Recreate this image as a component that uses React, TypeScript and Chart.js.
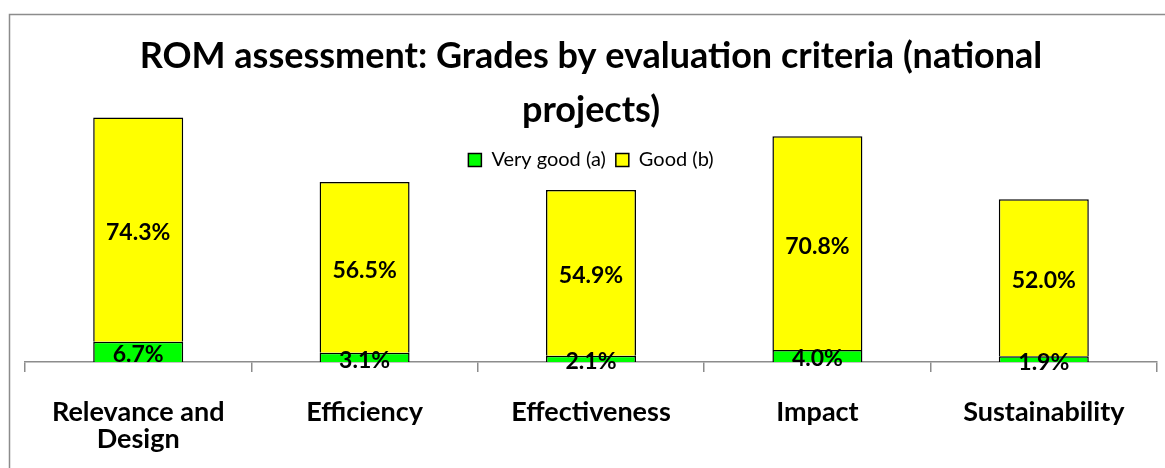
import React, { useEffect, useRef } from "react";
import { Chart, registerables } from "chart.js";

Chart.register(...registerables);

const categories: (string | string[])[] = [
  ["Relevance and", "Design"],
  "Efficiency",
  "Effectiveness",
  "Impact",
  "Sustainability",
];
const veryGood = [6.7, 3.1, 2.1, 4.0, 1.9];
const good = [74.3, 56.5, 54.9, 70.8, 52.0];
const titleLines = ["ROM assessment: Grades by evaluation criteria (national", "projects)"];
const seriesNames = ["Very good (a)", "Good (b)"];

const FONT = "Lato";

const frame = {
  id: "frame",
  beforeDraw(chart: any) {
    const ctx = chart.ctx;
    ctx.save();
    ctx.strokeStyle = "#8c8c8c";
    ctx.lineWidth = 1.5;
    ctx.beginPath();
    ctx.moveTo(9.5, 2000);
    ctx.lineTo(9.5, 14.5);
    ctx.lineTo(2000, 14.5);
    ctx.stroke();
    ctx.restore();
  },
};

const valueLabels = {
  id: "valueLabels",
  afterDatasetsDraw(chart: any) {
    const ctx = chart.ctx;
    ctx.save();
    ctx.fillStyle = "#000";
    ctx.font = `bold 23px ${FONT}`;
    ctx.textAlign = "center";
    ctx.textBaseline = "middle";
    chart.data.datasets.forEach((ds: any, di: number) => {
      const meta = chart.getDatasetMeta(di);
      meta.data.forEach((el: any, i: number) => {
        const v = ds.data[i];
        const cy = (el.y + el.base) / 2;
        ctx.fillText(v.toFixed(1) + "%", el.x, cy + 3);
      });
    });
    ctx.restore();
  },
};

export default function App() {
  const ref = useRef<HTMLCanvasElement>(null);
  useEffect(() => {
    if (!ref.current) return;
    const chart = new Chart(ref.current, {
      type: "bar",
      data: {
        labels: categories,
        datasets: [
          {
            label: seriesNames[0],
            data: veryGood,
            backgroundColor: "#00ff00",
            borderColor: "#000",
            borderWidth: 1.5,
            clip: false as any,
          },
          {
            label: seriesNames[1],
            data: good,
            backgroundColor: "#ffff00",
            borderColor: "#000",
            borderWidth: 1.5,
            clip: false as any,
          },
        ],
      },
      options: {
        responsive: false,
        animation: false,
        devicePixelRatio: 1,
        layout: { padding: { left: 25, right: 8, top: 0, bottom: -12 } },
        datasets: { bar: { barPercentage: 0.3975, categoryPercentage: 1 } },
        plugins: {
          title: {
            display: true,
            text: titleLines,
            color: "#000",
            font: { family: FONT, size: 36, weight: "bold", lineHeight: 1.5 },
            padding: { top: 29, bottom: 3 },
          },
          legend: {
            display: true,
            position: "top",
            labels: {
              color: "#000",
              boxWidth: 13,
              boxHeight: 13,
              padding: 10,
              font: { family: FONT, size: 20 },
            },
          },
          tooltip: { enabled: false },
        },
        scales: {
          x: {
            stacked: true,
            z: 1,
            offset: true,
            grid: {
              offset: true,
              drawOnChartArea: false,
              drawTicks: true,
              tickLength: 10,
              tickColor: "#8c8c8c",
              lineWidth: 1.5,
            },
            border: { display: true, color: "#8c8c8c", width: 1.5 },
            ticks: {
              color: "#000",
              autoSkip: false,
              maxRotation: 0,
              padding: 27,
              font: { family: FONT, size: 27, weight: "bold", lineHeight: 1.0 },
            },
          },
          y: {
            stacked: true,
            display: false,
            min: 0,
            max: 60.3,
          },
        },
      },
      plugins: [frame, valueLabels],
    });
    return () => chart.destroy();
  }, []);
  return (
    <div style={{ position: "absolute", left: 0, top: 0, width: 1165, height: 468, background: "#fff" }}>
      <canvas ref={ref} width={1165} height={468} style={{ display: "block" }} />
    </div>
  );
}
